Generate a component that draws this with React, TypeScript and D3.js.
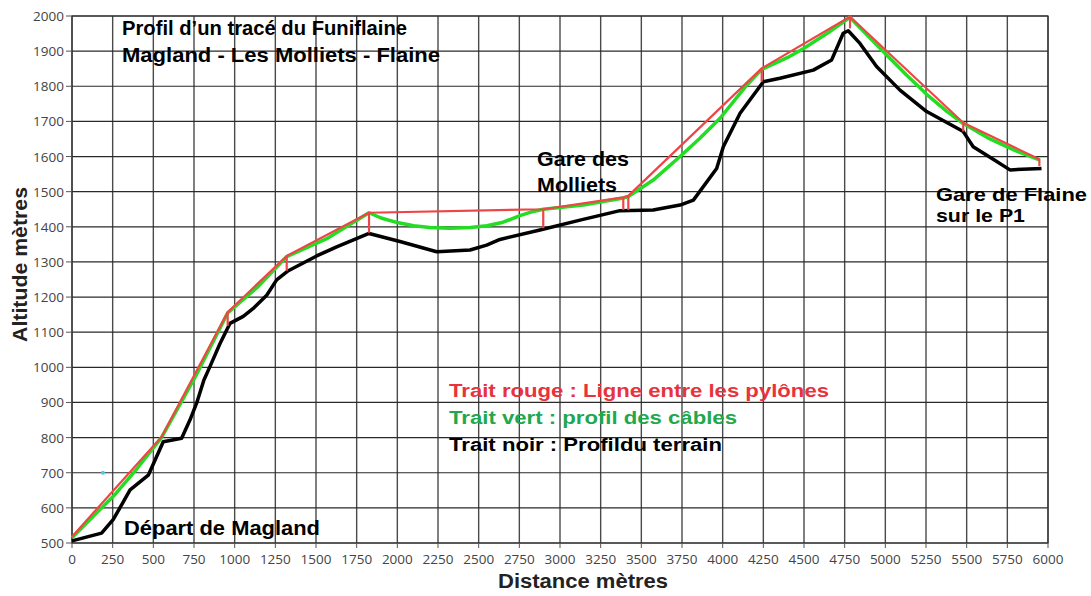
import React from 'react';
import * as d3 from "d3";

// terrain profile (black)
const terrainDist = [0, 182, 254, 357, 469, 561, 674, 725, 766, 811, 848, 910, 971, 1053, 1120, 1197, 1258, 1330, 1504, 1627, 1826, 2016, 2242, 2447, 2549, 2631, 2877, 3123, 3369, 3573, 3738, 3820, 3963, 4004, 4107, 4250, 4352, 4557, 4670, 4741, 4772, 4844, 4946, 5090, 5254, 5479, 5540, 5663, 5766, 5960];
const terrainAlt = [506, 528, 567, 651, 693, 788, 798, 850, 898, 964, 1002, 1068, 1125, 1145, 1170, 1205, 1249, 1275, 1317, 1343, 1381, 1358, 1329, 1334, 1348, 1364, 1391, 1419, 1446, 1448, 1462, 1476, 1566, 1628, 1723, 1813, 1823, 1846, 1875, 1951, 1958, 1922, 1856, 1789, 1728, 1671, 1628, 1592, 1562, 1566];

// line between pylons (red)
const pylonDist = [0, 550, 957, 1320, 1826, 2897, 3389, 3420, 4240, 4783, 5479, 5947];
const pylonAlt = [518, 802, 1157, 1317, 1440, 1450, 1484, 1488, 1851, 1998, 1696, 1592];

// pylon masts (red verticals)
const mastDist = [957, 1320, 1826, 2897, 3389, 3420, 4240, 4783, 5479, 5947];
const mastTop = [1157, 1317, 1440, 1450, 1484, 1488, 1851, 1998, 1696, 1592];
const mastBottom = [1118, 1275, 1383, 1396, 1448, 1448, 1813, 1965, 1671, 1573];

// cable profile (green), read by hand
const cableDist = [0, 266, 400, 550, 760, 957, 1140, 1320, 1573, 1826, 1900, 2000, 2100, 2200, 2324, 2450, 2550, 2650, 2754, 2830, 2897, 3143, 3389, 3420, 3573, 3738, 3860, 3984, 4148, 4240, 4400, 4500, 4650, 4783, 5008, 5130, 5254, 5380, 5479, 5643, 5800, 5951];
const cableAlt = [515, 639, 712, 800, 975, 1155, 1228, 1315, 1368, 1440, 1425, 1412, 1403, 1398, 1396, 1398, 1403, 1413, 1432, 1443, 1450, 1462, 1482, 1486, 1533, 1600, 1652, 1709, 1803, 1848, 1882, 1908, 1953, 1996, 1889, 1832, 1777, 1728, 1694, 1650, 1617, 1590];

const xTicks = d3.range(0, 6001, 250);
const yTicks = d3.range(500, 2001, 100);

const legendLines = [
    { text: "Trait rouge : Ligne entre les pylônes", color: "#e8323c", len: 380 },
    { text: "Trait vert : profil des câbles", color: "#1fa84c", len: 288 },
    { text: "Trait noir : Profildu terrain", color: "#000000", len: 273 },
];

const W = 1091, H = 596;
const left = 72, right = 1048, top = 16, bottom = 543;

const App = () => {
    const x = d3.scaleLinear().domain([0, 6000]).range([left, right]);
    const y = d3.scaleLinear().domain([500, 2000]).range([bottom, top]);

    const lineGen = d3.line<[number, number]>().x(d => x(d[0])).y(d => y(d[1]));
    const terrain = lineGen(terrainDist.map((d, i) => [d, terrainAlt[i]]));
    const pylons = lineGen(pylonDist.map((d, i) => [d, pylonAlt[i]]));
    const cable = lineGen(cableDist.map((d, i) => [d, cableAlt[i]]));

    const bold = "'Liberation Sans', Arial, sans-serif";
    const tickFont = "'Open Sans', 'Noto Sans', sans-serif";
    const stretch = "spacingAndGlyphs";

    return (
        <svg width={W} height={H} style={{ position: 'absolute', left: 0, top: 0, background: '#fff' }}>
            <rect x={left} y={top} width={right - left} height={bottom - top} fill="#fff" />
            {/* grid */}
            {xTicks.map(t => (
                <line key={'gx' + t} x1={x(t)} x2={x(t)} y1={top} y2={bottom} stroke="#4a4a4a" strokeWidth={1.4} />
            ))}
            {yTicks.map(t => (
                <line key={'gy' + t} x1={left} x2={right} y1={y(t)} y2={y(t)} stroke="#2a2a2a" strokeWidth={1.2} />
            ))}
            <rect x={left} y={top} width={right - left} height={bottom - top} fill="none" stroke="#333" strokeWidth={1.2} />
            {/* ticks */}
            {xTicks.map(t => (
                <g key={'tx' + t}>
                    <line x1={x(t)} x2={x(t)} y1={bottom} y2={bottom + 5} stroke="#555" />
                    <text x={x(t)} y={564} textAnchor="middle" fontFamily={tickFont} fontSize={13.5} fill="#444">{t}</text>
                </g>
            ))}
            {yTicks.map(t => (
                <g key={'ty' + t}>
                    <line x1={left - 6} x2={left} y1={y(t)} y2={y(t)} stroke="#555" />
                    <text x={left - 8} y={y(t) + 5} textAnchor="end" fontFamily={tickFont} fontSize={13.5} fill="#444">{t}</text>
                </g>
            ))}
            {/* axis titles */}
            <text x={498} y={588} fontFamily={bold} fontWeight="bold" fontSize={20} fill="#222" textLength={170} lengthAdjust={stretch}>Distance mètres</text>
            <text transform={`translate(27,342) rotate(-90)`} fontFamily={bold} fontWeight="bold" fontSize={20} fill="#222" textLength={155} lengthAdjust={stretch}>Altitude mètres</text>

            {/* series */}
            <path d={terrain} fill="none" stroke="#000" strokeWidth={3.5} strokeLinejoin="round" />
            <path d={cable} fill="none" stroke="#22dd22" strokeWidth={3.5} strokeLinejoin="round" />
            <path d={pylons} fill="none" stroke="#ee4646" strokeWidth={2.2} strokeLinejoin="round" />
            {mastDist.map((d, i) => (
                <line key={'m' + i} x1={x(d)} x2={x(d)} y1={y(mastTop[i])} y2={y(mastBottom[i])} stroke="#ee4646" strokeWidth={2.2} />
            ))}
            <circle cx={x(190)} cy={y(700)} r={2} fill="#4fc8e8" />

            {/* annotations */}
            <g fontFamily={bold} fontWeight="bold" fill="#000">
                <text x={122} y={35} fontSize={20.5} textLength={285} lengthAdjust={stretch}>Profil d’un tracé du Funiflaine</text>
                <text x={122} y={62} fontSize={20.5} textLength={318} lengthAdjust={stretch}>Magland - Les Molliets - Flaine</text>
                <text x={537} y={166} fontSize={20} textLength={92} lengthAdjust={stretch}>Gare des</text>
                <text x={537} y={192} fontSize={20} textLength={80} lengthAdjust={stretch}>Molliets</text>
                <text x={936} y={201} fontSize={19} textLength={151} lengthAdjust={stretch}>Gare de Flaine</text>
                <text x={936} y={222} fontSize={19} textLength={89} lengthAdjust={stretch}>sur le P1</text>
                <text x={124} y={535} fontSize={20.5} textLength={196} lengthAdjust={stretch}>Départ de Magland</text>
                {legendLines.map((l, i) => (
                    <text key={'l' + i} x={449} y={397 + i * 27} fontSize={17.5} fill={l.color} textLength={l.len} lengthAdjust={stretch}>{l.text}</text>
                ))}
            </g>
        </svg>
    );
}

export default App;
